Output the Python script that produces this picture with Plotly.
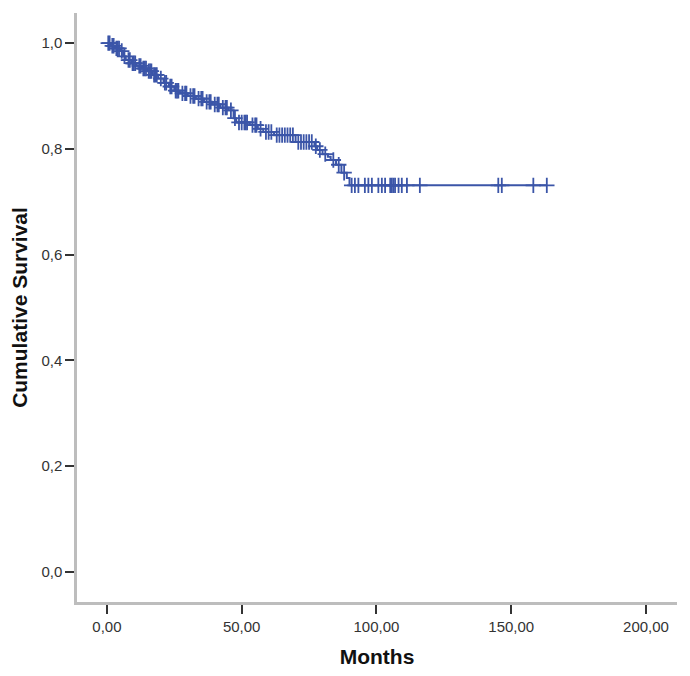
import numpy as np
import plotly.graph_objects as go

# Kaplan-Meier step points (months, cumulative survival after the drop)
step_months = [0, 1.5, 3, 5, 6, 7, 9, 11, 13, 15, 17, 19, 21, 23, 25, 27, 30, 33,
               36, 39, 42, 45, 47, 48, 53, 56, 58, 62, 70, 77, 78, 80, 82, 83,
               85, 87, 89, 90]
step_surv = [1.0, 0.995, 0.99, 0.985, 0.975, 0.968, 0.962, 0.957, 0.952, 0.947,
             0.94, 0.933, 0.925, 0.918, 0.91, 0.905, 0.90, 0.895, 0.889, 0.884,
             0.878, 0.873, 0.858, 0.85, 0.845, 0.838, 0.832, 0.826, 0.813, 0.805,
             0.798, 0.79, 0.785, 0.779, 0.77, 0.755, 0.745, 0.731]

# censored observations (months)
censor_months = [0.5, 1, 2, 2.5, 3.5, 4, 4.5, 5.5, 6.5, 8, 8.5, 9.5, 10, 10.5, 12,
                 12.5, 13.5, 14, 14.5, 15.5, 16, 16.5, 17.5, 18, 18.5, 20, 21.5,
                 22, 23.5, 24, 25.5, 26, 26.5, 28, 29, 29.5, 31, 32, 32.5, 34, 35,
                 35.5, 37, 38, 38.5, 40, 41, 41.5, 43, 44, 44.5, 46, 47.5, 49, 50,
                 51, 51.5, 52, 54, 55, 55.5, 57, 59, 60, 61, 63, 64, 65, 66, 67,
                 68, 69, 71, 72, 73, 74, 75, 76, 77.5, 79, 81, 84, 86, 88, 90.8,
                 92, 93.3, 95.7, 97, 98.3, 100.7, 102, 103.2, 105.1, 105.7, 106.3,
                 106.9, 108.2, 109.4, 111.3, 116.1, 145.2, 146.5, 158.2, 163.2]

x_ticks = [0, 50, 100, 150, 200]
y_ticks = [0.0, 0.2, 0.4, 0.6, 0.8, 1.0]

blue = "#3B55A8"

# survival level at each censored time
idx = np.searchsorted(step_months, censor_months, side="right") - 1
censor_surv = [step_surv[i] for i in idx]

line_x = step_months + [censor_months[-1]]
line_y = step_surv + [step_surv[-1]]

fig = go.Figure()
fig.add_trace(go.Scatter(x=line_x, y=line_y, mode="lines", line_shape="hv",
                         line=dict(color=blue, width=2), hoverinfo="skip"))
fig.add_trace(go.Scatter(x=censor_months, y=censor_surv, mode="markers",
                         marker=dict(symbol="cross-thin", size=11,
                                     line=dict(color=blue, width=1.8))))

axis_font = dict(family="Liberation Sans, Arial, sans-serif", size=15, color="#333333")
title_font = dict(family="Liberation Sans, Arial, sans-serif", size=21, color="#111111")

# page body adds an 8px margin, so the figure is sized to fit inside it
fig.update_layout(
    width=674, height=660,
    margin=dict(l=69, r=5, t=5, b=66),
    plot_bgcolor="white", paper_bgcolor="white",
    showlegend=False,
    separators=",.",
)
fig.update_xaxes(range=[-11.1, 211.5], tickvals=x_ticks, tickformat=".2f",
                 showgrid=False, zeroline=False, showline=True, automargin=False,
                 linecolor="#BDBDBD", linewidth=2.5,
                 ticks="outside", ticklen=9, tickwidth=1.5, tickcolor="#333333",
                 tickfont=axis_font,
                 title=dict(text="<b>Months</b>", font=title_font, standoff=16))
fig.update_yaxes(range=[-0.057, 1.057], tickvals=y_ticks, tickformat=".1f",
                 showgrid=False, zeroline=False, showline=True, automargin=False,
                 linecolor="#BDBDBD", linewidth=2.5,
                 ticks="outside", ticklen=9, tickwidth=1.5, tickcolor="#333333",
                 tickfont=axis_font,
                 title=dict(text="<b>Cumulative Survival</b>", font=title_font, standoff=14))

fig.write_html("out.html")
